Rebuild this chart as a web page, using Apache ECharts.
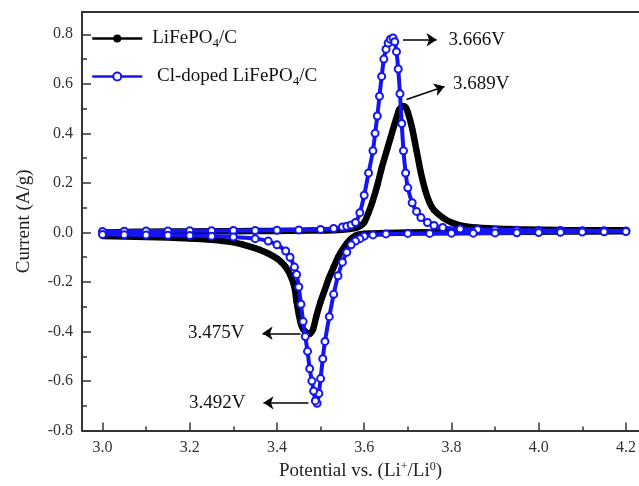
<!DOCTYPE html>
<html>
<head>
<meta charset="utf-8">
<script src="https://cdn.jsdelivr.net/npm/echarts@6/dist/echarts.min.js"></script>
<style>
html,body{margin:0;padding:0;background:#fff;}
#chart{width:639px;height:486px;}
</style>
</head>
<body>
<div id="chart"></div>
<script>
// ---- axis ranges & ticks ----
const X_MIN = 2.953, X_MAX = 4.23;
const Y_MIN = -0.8, Y_MAX = 0.89;
const xMajorTicks = [3.0, 3.2, 3.4, 3.6, 3.8, 4.0, 4.2];
const xMinorTicks = [3.1, 3.3, 3.5, 3.7, 3.9, 4.1];
const yMajorTicks = [-0.8, -0.6, -0.4, -0.2, 0.0, 0.2, 0.4, 0.6, 0.8];
const yMinorTicks = [-0.7, -0.5, -0.3, -0.1, 0.1, 0.3, 0.5, 0.7];

// ---- series names ----
const seriesNames = ['LiFePO4/C', 'Cl-doped LiFePO4/C'];

// ---- LiFePO4/C : potential (V) and current (A/g), anodic then cathodic sweep ----
const blackV = [
  3.00, 3.05, 3.10, 3.20, 3.30, 3.40, 3.45, 3.50, 3.54, 3.56, 3.58, 3.59, 3.60, 3.61, 3.62, 3.63,
  3.64, 3.65, 3.66, 3.67, 3.68, 3.688, 3.695, 3.70, 3.71, 3.72, 3.73, 3.74, 3.75, 3.76, 3.78, 3.80,
  3.83, 3.87, 3.95, 4.05, 4.20,
  4.20, 4.10, 4.00, 3.90, 3.80, 3.70, 3.65, 3.62, 3.60, 3.58, 3.57, 3.56, 3.55, 3.54, 3.53, 3.52,
  3.51, 3.50, 3.49, 3.483, 3.475, 3.468, 3.46, 3.455, 3.45, 3.445, 3.44, 3.43, 3.42, 3.41, 3.40,
  3.38, 3.36, 3.34, 3.32, 3.30, 3.25, 3.20, 3.10, 3.00
];
const blackI = [
  0.000, 0.002, 0.003, 0.004, 0.005, 0.006, 0.007, 0.008, 0.010, 0.013, 0.018, 0.025, 0.040, 0.080, 0.130, 0.190,
  0.260, 0.320, 0.380, 0.440, 0.495, 0.510, 0.505, 0.485, 0.420, 0.330, 0.240, 0.170, 0.120, 0.090, 0.060, 0.040,
  0.025, 0.018, 0.013, 0.010, 0.008,
  0.005, 0.004, 0.003, 0.002, 0.001, 0.000, -0.002, -0.004, -0.005, -0.012, -0.025, -0.045, -0.070, -0.100, -0.140, -0.180,
  -0.230, -0.280, -0.340, -0.390, -0.410, -0.405, -0.390, -0.370, -0.330, -0.280, -0.220, -0.170, -0.140, -0.120, -0.105,
  -0.085, -0.070, -0.058, -0.048, -0.040, -0.030, -0.024, -0.018, -0.014
];

// ---- Cl-doped LiFePO4/C ----
const blueV = [
  3.00, 3.05, 3.10, 3.15, 3.20, 3.25, 3.30, 3.35, 3.40, 3.45, 3.50, 3.53, 3.55, 3.56, 3.57, 3.58,
  3.59, 3.60, 3.61, 3.62, 3.625, 3.63, 3.635, 3.64, 3.645, 3.65, 3.655, 3.66, 3.666, 3.67, 3.674,
  3.678, 3.682, 3.686, 3.69, 3.695, 3.70, 3.71, 3.72, 3.73, 3.745, 3.76, 3.78, 3.82, 3.86, 3.90,
  3.95, 4.00, 4.05, 4.10, 4.15, 4.20,
  4.20, 4.15, 4.10, 4.05, 4.00, 3.95, 3.90, 3.85, 3.80, 3.75, 3.70, 3.65, 3.62, 3.60, 3.59, 3.58,
  3.57, 3.56, 3.55, 3.54, 3.53, 3.52, 3.51, 3.505, 3.50, 3.496, 3.492, 3.488, 3.484, 3.48, 3.475,
  3.47, 3.465, 3.46, 3.455, 3.45, 3.445, 3.44, 3.43, 3.42, 3.40, 3.38, 3.35, 3.30, 3.25, 3.20,
  3.15, 3.10, 3.05, 3.00
];
const blueI = [
  0.004, 0.005, 0.006, 0.006, 0.007, 0.007, 0.008, 0.008, 0.009, 0.010, 0.012, 0.016, 0.022, 0.025, 0.030, 0.040,
  0.080, 0.150, 0.240, 0.330, 0.400, 0.470, 0.550, 0.630, 0.700, 0.740, 0.765, 0.780, 0.785, 0.770, 0.730,
  0.660, 0.560, 0.440, 0.330, 0.240, 0.180, 0.120, 0.085, 0.060, 0.040, 0.028, 0.020, 0.014, 0.012, 0.010,
  0.009, 0.008, 0.008, 0.007, 0.007, 0.006,
  0.004, 0.003, 0.002, 0.001, 0.000, -0.001, -0.002, -0.003, -0.003, -0.004, -0.004, -0.006, -0.010, -0.015, -0.025, -0.035,
  -0.050, -0.080, -0.120, -0.175, -0.250, -0.340, -0.440, -0.510, -0.590, -0.650, -0.690, -0.680, -0.640, -0.600, -0.550,
  -0.480, -0.420, -0.360, -0.290, -0.220, -0.170, -0.140, -0.100, -0.075, -0.050, -0.035, -0.025, -0.018, -0.015, -0.012,
  -0.011, -0.010, -0.009, -0.008
];

// ---- peak annotations: label, arrow tail [V, I], arrow head [V, I] ----
const peakLabels = ['3.666V', '3.689V', '3.475V', '3.492V'];
const arrowTail = [[3.689, 0.778], [3.697, 0.537], [3.454, -0.407], [3.472, -0.688]];
const arrowHead = [[3.766, 0.778], [3.784, 0.589], [3.367, -0.407], [3.369, -0.688]];
const labelGap = [12, 9, 18, 18];

const SERIF = '"Liberation Serif", "Times New Roman", serif';
const blackData = blackV.map((v, i) => [v, blackI[i]]);
const blueData = blueV.map((v, i) => [v, blueI[i]]);

const chart = echarts.init(document.getElementById('chart'), null, {renderer: 'canvas'});

const markData = peakLabels.map((t, i) => {
  const lab = {show: true, position: 'end', formatter: t, distance: labelGap[i],
    fontFamily: SERIF, fontSize: 19, color: '#111'};
  return [{coord: arrowTail[i], label: lab}, {coord: arrowHead[i], label: lab}];
});

const legendRich = {
  n: {fontFamily: SERIF, fontSize: 19, color: '#111'},
  s: {fontFamily: SERIF, fontSize: 13, color: '#111', verticalAlign: 'bottom', padding: [10, 0, 0, 0]}
};

const option = {
  animation: false,
  backgroundColor: '#fff',
  grid: {left: 82, right: 0, top: 12, bottom: 53, containLabel: false},
  legend: {
    orient: 'vertical', left: 86, top: 24, itemGap: 17,
    itemWidth: 50, itemHeight: 10,
    lineStyle: {width: 2.5},
    data: seriesNames,
    formatter: function (name) {
      if (name === seriesNames[0]) return '{n|LiFePO}{s|4}{n|/C}';
      return '{n| Cl-doped LiFePO}{s|4}{n|/C}';
    },
    textStyle: {rich: legendRich, padding: [0, 0, 0, 5]}
  },
  xAxis: [
    {
      type: 'value', position: 'bottom', min: X_MIN, max: X_MAX,
      name: '{n|Potential vs. (Li}{p|+}{n|/Li}{p|0}{n|)}',
      nameLocation: 'middle', nameGap: 27,
      nameTextStyle: {rich: {
        n: {fontFamily: SERIF, fontSize: 19, color: '#222'},
        p: {fontFamily: SERIF, fontSize: 12, color: '#222', verticalAlign: 'top', padding: [0, 0, 10, 0]}
      }},
      axisLine: {show: true, onZero: false, lineStyle: {color: '#333', width: 2}},
      axisTick: {show: true, inside: true, length: 8, customValues: xMajorTicks, lineStyle: {color: '#333', width: 1.5}},
      axisLabel: {show: true, customValues: xMajorTicks, margin: 9,
        formatter: v => v.toFixed(1), fontFamily: SERIF, fontSize: 16, color: '#333'},
      splitLine: {show: false}
    },
    {
      type: 'value', position: 'bottom', min: X_MIN, max: X_MAX,
      axisLine: {show: false, onZero: false},
      axisTick: {show: true, inside: true, length: 4, customValues: xMinorTicks, lineStyle: {color: '#333', width: 1.5}},
      axisLabel: {show: false},
      splitLine: {show: false}
    },
    {
      type: 'value', position: 'top', min: X_MIN, max: X_MAX,
      axisLine: {show: true, onZero: false, lineStyle: {color: '#333', width: 2}},
      axisTick: {show: false}, axisLabel: {show: false}, splitLine: {show: false}
    }
  ],
  yAxis: [
    {
      type: 'value', position: 'left', min: Y_MIN, max: Y_MAX,
      name: 'Current (A/g)', nameLocation: 'middle', nameGap: 48, nameRotate: 90,
      nameTextStyle: {fontFamily: SERIF, fontSize: 19, color: '#222'},
      axisLine: {show: true, onZero: false, lineStyle: {color: '#333', width: 2}},
      axisTick: {show: true, inside: true, length: 9, customValues: yMajorTicks, lineStyle: {color: '#333', width: 1.5}},
      axisLabel: {show: true, customValues: yMajorTicks, margin: 9,
        formatter: v => v.toFixed(1), fontFamily: SERIF, fontSize: 16, color: '#333'},
      splitLine: {show: false}
    },
    {
      type: 'value', position: 'left', min: Y_MIN, max: Y_MAX,
      axisLine: {show: false, onZero: false},
      axisTick: {show: true, inside: true, length: 5, customValues: yMinorTicks, lineStyle: {color: '#333', width: 1.5}},
      axisLabel: {show: false}, splitLine: {show: false}
    }
  ],
  series: [
    {
      name: seriesNames[0], type: 'line', xAxisIndex: 0, yAxisIndex: 0,
      data: blackData, smooth: 0.2,
      symbol: 'circle', symbolSize: 6, showSymbol: true,
      itemStyle: {color: '#000'},
      lineStyle: {color: '#000', width: 6.5},
      z: 2
    },
    {
      name: seriesNames[1], type: 'line', xAxisIndex: 0, yAxisIndex: 0,
      data: blueData, smooth: 0.2,
      symbol: 'emptyCircle', symbolSize: 7, showSymbol: true,
      itemStyle: {color: '#1414f5', borderWidth: 1.3},
      lineStyle: {color: '#1414f5', width: 4},
      z: 3,
      markLine: {
        silent: true, animation: false,
        symbol: ['none', 'arrow'], symbolSize: 10,
        lineStyle: {color: '#000', width: 1.5, type: 'solid'},
        emphasis: {disabled: true},
        data: markData
      }
    }
  ]
};
chart.setOption(option);
</script>
</body>
</html>
